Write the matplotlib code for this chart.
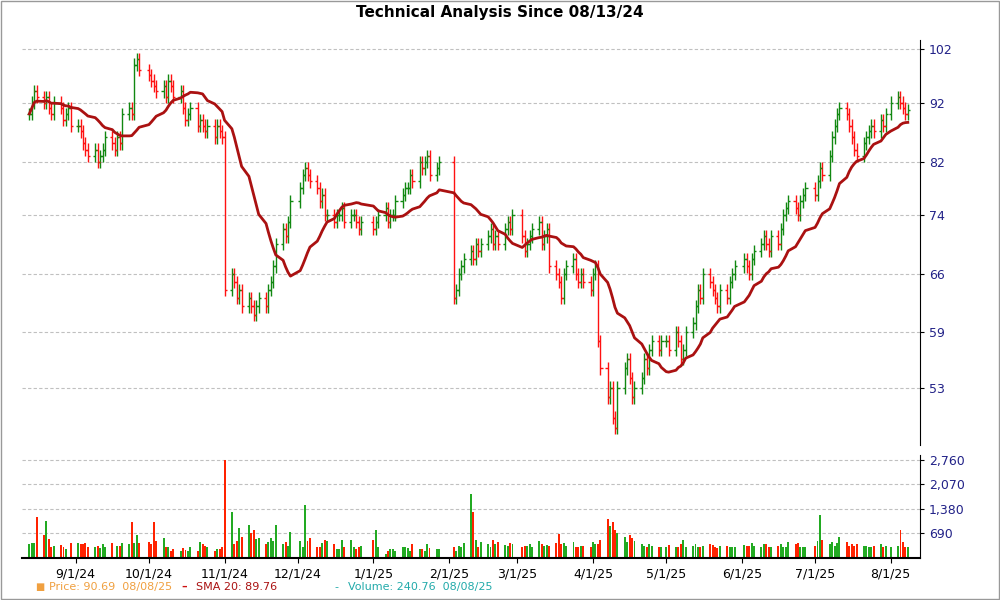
import numpy as np
import pandas as pd
import matplotlib
matplotlib.use("Agg")
import matplotlib.pyplot as plt
import matplotlib.dates as mdates
from matplotlib.ticker import FixedLocator, NullLocator

# closes per month block (first n business days of each month)
months = [
    ("2024-08-13", "2024-08-31", [90, 92, 94, 93, 92, 93, 91, 90, 92, 91, 89, 90, 91, 88]),
    ("2024-09-01", "2024-09-30", [88, 87, 85, 84, 83, 84, 82, 83, 84, 86, 85, 84, 86, 85, 90, 91, 90, 99, 100, 98]),
    ("2024-10-01", "2024-10-31", [97, 96, 95, 94, 95, 93, 96, 95, 93, 94, 91, 89, 90, 91, 88, 89, 88, 87, 88, 86, 88, 87, 86]),
    ("2024-11-01", "2024-11-30", [64, 66, 65, 63, 64, 62, 63, 62, 61, 62, 63, 62, 64, 65, 67, 70, 72, 71, 73, 76]),
    ("2024-12-01", "2024-12-31", [78, 80, 81, 80, 79, 78, 76, 77, 74, 74, 73, 74, 74, 75, 73, 74, 74, 73, 72, 73]),
    ("2025-01-01", "2025-01-31", [72, 73, 74, 75, 73, 74, 74, 76, 77, 78, 78, 80, 79, 82, 81, 82, 83, 80, 81, 82]),
    ("2025-02-01", "2025-02-28", [63, 64, 66, 67, 68, 69, 68, 70, 69, 70, 71, 72, 70, 71, 70, 72, 73, 72, 74]),
    ("2025-03-01", "2025-03-31", [71, 69, 70, 71, 72, 73, 70, 71, 72, 67, 66, 65, 63, 66, 67, 68, 66, 65, 66, 65, 64]),
    ("2025-04-01", "2025-04-30", [66, 67, 58, 55, 52, 53, 50, 49, 53, 55, 56, 54, 52, 53, 54, 56, 55, 57, 58, 57, 58]),
    ("2025-05-01", "2025-05-31", [58, 57, 59, 58, 56, 57, 59, 60, 62, 64, 63, 66, 65, 64, 63, 62, 64, 63, 65, 66, 67]),
    ("2025-06-01", "2025-06-30", [68, 67, 66, 68, 69, 70, 71, 70, 69, 71, 70, 72, 74, 75, 76, 75, 74, 76, 77, 78]),
    ("2025-07-01", "2025-07-31", [77, 79, 81, 80, 83, 86, 88, 90, 91, 90, 88, 86, 84, 83, 85, 86, 87, 88, 87, 89, 88, 90]),
    ("2025-08-01", "2025-08-08", [92, 93, 92, 91, 90, 90.69]),
]

volumes = [
    400, 420, 430, 1150, 650, 1050, 540, 300, 330, 360, 320, 250, 0, 420,
    420, 380, 380, 420, 300, 320, 330, 280, 400, 300, 420, 0, 330, 350, 430, 380, 1000, 430, 650, 430, 450,
    400, 1000, 480, 550, 320, 300, 200, 250, 200, 290, 220, 200, 320, 200, 450, 380, 330, 320, 200, 260, 260, 300,
    2760, 1300, 400, 490, 830, 600, 930, 700, 800, 530, 570, 400, 450, 550, 470, 920, 400, 450, 350, 720, 490, 300,
    1500, 470, 560, 300, 300, 430, 500, 480, 400, 250, 250, 500, 320, 500, 320, 250, 300, 330, 500, 800,
    300, 100, 200, 240, 250, 200, 320, 320, 280, 200, 400, 260, 250, 200, 400, 280, 240, 260, 300, 200,
    350, 300, 420, 1800, 1300, 500, 300, 450, 400, 300, 500, 400, 450, 370, 350, 420, 380, 300, 330,
    350, 380, 320, 480, 400, 330, 360, 350, 420, 680, 380, 410, 350, 440, 300, 300, 330, 350, 320, 450, 400,
    380, 500, 1100, 900, 1000, 800, 700, 600, 450, 650, 550, 480, 400, 350, 300, 400, 350, 320, 300, 300, 360,
    300, 320, 400, 500, 300, 350, 380, 320, 300, 350, 400, 360, 300, 280, 350, 330, 300, 320, 300, 360, 350,
    350, 420, 330, 300, 380, 400, 320, 300, 350, 380, 300, 320, 450, 400, 420, 300, 320, 300, 350, 480,
    1200, 500, 400, 450, 350, 420, 600, 450, 350, 380, 350, 400, 330, 350, 300, 320, 350, 400, 320, 350, 300, 350,
    800, 450, 300, 320, 280, 240.76,
]

dates, closes = [], []
for start, end, vals in months:
    d = pd.bdate_range(start, end)[:len(vals)]
    dates.extend(d)
    closes.extend(vals)
dates = pd.DatetimeIndex(dates)
closes = np.array(closes, dtype=float)
volumes = np.array(volumes[:len(closes)], dtype=float)

opens = np.r_[closes[0], closes[:-1]]
highs = np.maximum(opens, closes) * 1.012
lows = np.minimum(opens, closes) * 0.988
sma = pd.Series(closes).rolling(20, min_periods=1).mean().values
up = closes >= opens
cols = np.where(up, "#118811", "#ff1111")

fig = plt.figure(figsize=(10, 6), dpi=100)
fig.patches.append(plt.Rectangle((0.001, 0.001), 0.998, 0.998, transform=fig.transFigure,
                                 fill=False, ec="#999999", lw=1))
ax = fig.add_axes([0.022, 0.258, 0.898, 0.675])
axv = fig.add_axes([0.022, 0.07, 0.898, 0.172], sharex=ax)

xn = mdates.date2num(dates)
w = 0.9
ax.vlines(xn, lows, highs, colors=cols, lw=1)
ax.hlines(opens, xn - w, xn, colors=cols, lw=1)
ax.hlines(closes, xn, xn + w, colors=cols, lw=1)
ax.plot(xn, sma, color="#aa1111", lw=2)
ax.set_yscale("log")
ax.set_ylim(47.4, 103.8)
pt = [53, 59, 66, 74, 82, 92, 102]
ax.yaxis.set_major_locator(FixedLocator(pt))
ax.yaxis.set_minor_locator(NullLocator())
ax.set_yticklabels([str(t) for t in pt])
ax.grid(axis="y", color="#c0c0c0", ls=(0, (3, 2)), lw=0.8)

axv.bar(xn, volumes, width=0.8, color=np.where(up, "#22aa22", "#ff2200"))
axv.set_ylim(0, 2900)
vt = [690, 1380, 2070, 2760]
axv.set_yticks(vt)
axv.set_yticklabels(["690", "1,380", "2,070", "2,760"])
axv.grid(axis="y", color="#c0c0c0", ls=(0, (3, 2)), lw=0.8)

for a in (ax, axv):
    a.yaxis.tick_right()
    a.tick_params(axis="y", labelsize=9, labelcolor="#222288", length=3)
    for s in ("left", "top"):
        a.spines[s].set_visible(False)
    a.set_axisbelow(True)
ax.spines["bottom"].set_visible(False)
ax.tick_params(axis="x", bottom=False, labelbottom=False)
axv.spines["bottom"].set_linewidth(1.5)

ticks = pd.to_datetime(["2024-09-01", "2024-10-01", "2024-11-01", "2024-12-01", "2025-01-01",
                        "2025-02-01", "2025-03-01", "2025-04-01", "2025-05-01", "2025-06-01",
                        "2025-07-01", "2025-08-01"])
axv.set_xticks(mdates.date2num(ticks))
axv.set_xticklabels([f"{t.month}/{t.day}/{t.strftime('%y')}" for t in ticks], fontsize=9)
axv.set_xlim(mdates.date2num(pd.Timestamp("2024-08-10")), mdates.date2num(pd.Timestamp("2025-08-13")))

fig.text(0.5, 0.98, "Technical Analysis Since 08/13/24", ha="center", va="center",
         fontsize=11, fontweight="bold")
fs = 8
fig.text(0.035, 0.022, "\u25a0", color="#f0a040", fontsize=7, va="center")
fig.text(0.049, 0.022, "Price: 90.69  08/08/25", color="#f0a040", fontsize=fs, va="center")
fig.text(0.181, 0.022, "\u2013", color="#cc1111", fontsize=fs, va="center", fontweight="bold")
fig.text(0.196, 0.022, "SMA 20: 89.76", color="#aa1111", fontsize=fs, va="center")
fig.text(0.334, 0.022, "-", color="#22aaaa", fontsize=fs, va="center")
fig.text(0.348, 0.022, "Volume: 240.76  08/08/25", color="#22aaaa", fontsize=fs, va="center")

fig.savefig("out.png", dpi=100)
